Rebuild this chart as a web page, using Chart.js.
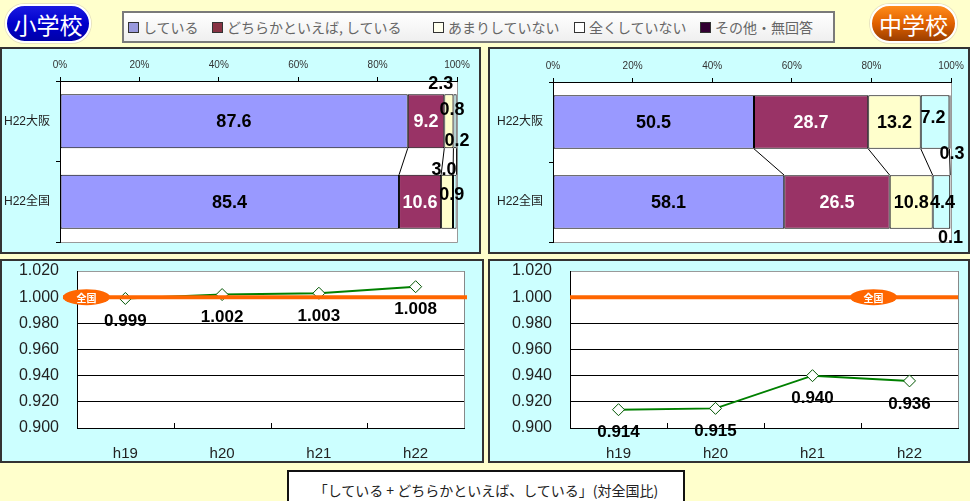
<!DOCTYPE html>
<html>
<head>
<meta charset="utf-8">
<script src="https://cdn.jsdelivr.net/npm/chart.js@4/dist/chart.umd.min.js"></script>
<style>
  body { margin:0; width:970px; height:501px; background:#ffffcc; position:relative; overflow:hidden;
         font-family:"Liberation Sans", Arial, "Noto Sans CJK JP", sans-serif; }
  .panel { position:absolute; box-sizing:border-box; border:2px solid #333; background:#ccffff; }
  .panel .wrap { position:relative; width:100%; height:100%; }
  .pill { position:absolute; top:4px; height:39px; box-sizing:border-box; border:2px solid #fff; border-radius:20px;
          box-shadow:0 0 0 1px #e8e4c0; color:#fff; font:23px "Noto Sans CJK JP", sans-serif;
          display:flex; align-items:center; justify-content:center; }
  #sho { left:5px; width:86px; background:linear-gradient(#1a1ae0, #0000cc 50%, #0000a8); }
  #chu { left:870px; width:87px; background:linear-gradient(#ff8c1a, #e06000 50%, #9a3e00); }
  #legend { position:absolute; left:122px; top:11px; width:713px; height:32px; box-sizing:border-box;
            border:2px solid #7a7a7a; background:linear-gradient(#ffffff, #efefef); }
  .li { position:absolute; top:6px; font:14px "Noto Sans CJK JP", sans-serif; color:#666; white-space:nowrap;
        display:flex; align-items:center; line-height:16px; }
  .sw { width:9px; height:9px; border:1px solid #333; margin-right:4px; }
  #caption { position:absolute; left:287px; top:470px; width:398px; height:40px; box-sizing:border-box;
             border:2px solid #111; background:#fff; font:14px "Noto Sans CJK JP", sans-serif; color:#222;
             text-align:center; padding-top:8px; }
</style>
</head>
<body>
<div class="pill" id="sho">小学校</div>
<div class="pill" id="chu">中学校</div>
<div id="legend"></div>

<div class="panel" style="left:0;top:47px;width:481px;height:207px"><div class="wrap"><canvas id="bar-sho"></canvas></div></div>
<div class="panel" style="left:488px;top:47px;width:482px;height:207px"><div class="wrap"><canvas id="bar-chu"></canvas></div></div>
<div class="panel" style="left:0;top:259px;width:484px;height:204px"><div class="wrap"><canvas id="line-sho"></canvas></div></div>
<div class="panel" style="left:488px;top:259px;width:482px;height:204px"><div class="wrap"><canvas id="line-chu"></canvas></div></div>

<div id="caption">「している + どちらかといえば、している」(対全国比)</div>

<script>
// 帯グラフ: 回答の割合 (%)
const BAR_CATS = ['H22大阪', 'H22全国'];
const SERIES = ['している', 'どちらかといえば、している', 'あまりしていない', '全くしていない', 'その他・無回答'];
const SERIES_COLORS = ['#9999ff', '#993366', '#ffffcc', '#ccffff', '#660066'];
const LEGEND_SWATCH = ['#9999dd', '#883344', '#ffffee', '#ffffff', '#330033'];

const SHO_SHITEIRU = [87.6, 85.4];
const SHO_DOCHIRA  = [9.2, 10.6];
const SHO_AMARI    = [2.3, 3.0];
const SHO_MATTAKU  = [0.8, 0.9];
const SHO_SONOTA   = [0.2, null];

const CHU_SHITEIRU = [50.5, 58.1];
const CHU_DOCHIRA  = [28.7, 26.5];
const CHU_AMARI    = [13.2, 10.8];
const CHU_MATTAKU  = [7.2, 4.4];
const CHU_SONOTA   = [0.3, 0.1];

// 折れ線: 対全国比
const YEARS = ['h19', 'h20', 'h21', 'h22'];
const SHO_RATIO = [0.999, 1.002, 1.003, 1.008];
const CHU_RATIO = [0.914, 0.915, 0.940, 0.936];
const NATIONAL = 1.0;

// 細い区分のラベルをずらす量 [dx, dy] (系列 x カテゴリ)
const Z = [[0, 0], [0, 0]];
const SHO_SHIFT = [Z, Z, [[-8, -38], [-3, -33]], [[-3, -12], [-3, -8]], [[0, 19], [0, 0]]];
const CHU_SHIFT = [Z, Z, Z, [[-2, -5], [1, 0]], [[2, 31], [0, 35]]];

const NUM_FONT = '"Liberation Sans", Arial, sans-serif';
Chart.defaults.font.family = '"Liberation Sans", Arial, "Noto Sans CJK JP", sans-serif';
Chart.defaults.animation = false;

// legend (html)
const LEGEND_X = [4, 88, 309, 450, 576];
document.getElementById('legend').innerHTML = SERIES.map((s, i) =>
  `<div class="li" style="left:${LEGEND_X[i]}px"><span class="sw" style="background:${LEGEND_SWATCH[i]}"></span>${s.replace('、', ', ')}</div>`
).join('');

// 目盛ラベル分の余白を詰める
const noPad = (s) => { s.paddingTop = 0; s.paddingBottom = 0; s.paddingLeft = 0; s.paddingRight = 0; };

const barDeco = {
  id: 'barDeco',
  beforeDraw(chart) {
    const a = chart.chartArea, c = chart.ctx;
    c.save(); c.fillStyle = '#fff'; c.fillRect(a.left, a.top, a.right - a.left, a.bottom - a.top);
    c.strokeStyle = '#999'; c.lineWidth = 1;
    c.beginPath(); c.moveTo(a.left, a.bottom + 0.5); c.lineTo(a.right + 0.5, a.bottom + 0.5); c.lineTo(a.right + 0.5, a.top); c.stroke();
    c.restore();
  },
  afterDatasetsDraw(chart, args, opts) {
    const c = chart.ctx, xs = chart.scales.x, ys = chart.scales.y;
    const sets = chart.data.datasets;
    const half = chart.getDatasetMeta(0).data[0].height / 2;
    // 系列線
    c.save(); c.strokeStyle = '#000'; c.lineWidth = 1;
    let cum0 = 0, cum1 = 0;
    for (let k = 0; k < sets.length - 1; k++) {
      cum0 += sets[k].data[0] || 0; cum1 += sets[k].data[1] || 0;
      c.beginPath();
      c.moveTo(xs.getPixelForValue(cum0), ys.getPixelForValue(0) + half);
      c.lineTo(xs.getPixelForValue(cum1), ys.getPixelForValue(1) - half);
      c.stroke();
    }
    // 数値ラベル
    c.font = 'bold 18px ' + NUM_FONT; c.textAlign = 'center'; c.textBaseline = 'middle';
    for (let j = 0; j < BAR_CATS.length; j++) {
      let cum = 0;
      sets.forEach((ds, i) => {
        const v = ds.data[j];
        if (v == null) return;
        const sh = opts.shift[i][j];
        const x = xs.getPixelForValue(cum + v / 2) + sh[0];
        const y = ys.getPixelForValue(j) + sh[1];
        c.fillStyle = i === 1 ? '#fff' : '#000';
        c.fillText(v.toFixed(1), x, y + 1);
        cum += v;
      });
    }
    c.restore();
  },
};

function barChart(id, series, shift, yWidth, xHeight, padRight) {
  return new Chart(document.getElementById(id), {
    type: 'bar',
    data: {
      labels: BAR_CATS,
      datasets: series.map((d, i) => ({
        label: SERIES[i], data: d, backgroundColor: SERIES_COLORS[i],
        borderColor: '#000', borderWidth: 1, borderSkipped: false,
        categoryPercentage: 0.67, barPercentage: 1,
      })),
    },
    options: {
      indexAxis: 'y', responsive: true, maintainAspectRatio: false,
      layout: { padding: { top: 0, right: padRight, bottom: 10, left: 0 } },
      plugins: { legend: { display: false }, tooltip: { enabled: false }, barDeco: { shift } },
      scales: {
        x: {
          position: 'top', stacked: true, min: 0, max: 100,
          ticks: { stepSize: 20, callback: (v) => v + '%', font: { size: 10 }, color: '#333', padding: 6 },
          grid: { drawOnChartArea: false, tickLength: 4, color: '#000' },
          border: { color: '#000' },
          afterFit: (s) => { s.height = xHeight; noPad(s); },
        },
        y: {
          stacked: true,
          ticks: { font: { size: 12 }, color: '#222', padding: 6 },
          grid: { drawOnChartArea: false, offset: true, tickLength: 4, color: '#000' },
          border: { color: '#000' },
          afterFit: (s) => { s.width = yWidth; noPad(s); },
        },
      },
    },
    plugins: [barDeco],
  });
}

barChart('bar-sho', [SHO_SHITEIRU, SHO_DOCHIRA, SHO_AMARI, SHO_MATTAKU, SHO_SONOTA], SHO_SHIFT, 58, 32, 22);
barChart('bar-chu', [CHU_SHITEIRU, CHU_DOCHIRA, CHU_AMARI, CHU_MATTAKU, CHU_SONOTA], CHU_SHIFT, 63, 33, 17);

const lineDeco = {
  id: 'lineDeco',
  beforeDraw(chart) {
    const a = chart.chartArea, c = chart.ctx;
    c.save(); c.fillStyle = '#fff'; c.fillRect(a.left, a.top, a.right - a.left, a.bottom - a.top); c.restore();
  },
  beforeDatasetsDraw(chart) {
    const a = chart.chartArea, c = chart.ctx, xs = chart.scales.x;
    c.save(); c.strokeStyle = '#888'; c.lineWidth = 1;
    c.beginPath(); c.moveTo(a.right + 0.5, a.top); c.lineTo(a.right + 0.5, a.bottom); c.stroke();
    // 目盛り (内向き)
    c.strokeStyle = '#000';
    for (let i = 0; i < YEARS.length - 1; i++) {
      const x = Math.round((xs.getPixelForValue(i) + xs.getPixelForValue(i + 1)) / 2) + 0.5;
      c.beginPath(); c.moveTo(x, a.bottom); c.lineTo(x, a.bottom - 5); c.stroke();
    }
    c.restore();
  },
  afterDatasetsDraw(chart, args, opts) {
    const a = chart.chartArea, c = chart.ctx;
    const y = chart.scales.y.getPixelForValue(NATIONAL);
    c.save();
    c.strokeStyle = '#ff6600'; c.lineWidth = 4;
    c.beginPath(); c.moveTo(a.left + opts.lineFrom, y); c.lineTo(a.right + opts.lineTo, y); c.stroke();
    c.fillStyle = '#ff6600';
    c.beginPath(); c.ellipse(a.left + opts.ovalX, y, 23.5, 8, 0, 0, Math.PI * 2); c.fill();
    c.fillStyle = '#fff'; c.font = 'bold 10px "Noto Sans CJK JP", sans-serif';
    c.textAlign = 'center'; c.textBaseline = 'middle';
    c.fillText('全国', a.left + opts.ovalX, y + 1);
    // 値ラベル
    c.fillStyle = '#000'; c.font = 'bold 17px ' + NUM_FONT;
    chart.getDatasetMeta(0).data.forEach((pt, i) => {
      c.fillText(chart.data.datasets[0].data[i].toFixed(3), pt.x, pt.y + 23);
    });
    c.restore();
  },
};

function lineChart(id, values, deco, padRight) {
  return new Chart(document.getElementById(id), {
    type: 'line',
    data: {
      labels: YEARS,
      datasets: [{
        data: values, borderColor: '#008000', borderWidth: 2,
        pointStyle: 'rectRot', pointRadius: 6, pointBackgroundColor: '#fff',
        pointBorderColor: '#005500', pointBorderWidth: 1,
      }],
    },
    options: {
      responsive: true, maintainAspectRatio: false,
      layout: { padding: { top: 10, right: padRight, bottom: 0, left: 0 } },
      plugins: { legend: { display: false }, tooltip: { enabled: false }, lineDeco: deco },
      scales: {
        x: {
          offset: true,
          ticks: { font: { size: 15 }, color: '#222', padding: 17 },
          grid: { display: false, drawTicks: false },
          border: { color: '#000' },
          afterFit: (s) => { s.height = 33; noPad(s); },
        },
        y: {
          min: 0.9, max: 1.02,
          ticks: { stepSize: 0.02, callback: (v) => v.toFixed(3), font: { size: 16 }, color: '#222', padding: 18 },
          grid: { drawTicks: false, color: (ctx) => (ctx.tick.value > 1.01 ? '#999' : '#000') },
          border: { color: '#000' },
          afterFit: (s) => { s.width = deco.axisWidth; noPad(s); },
        },
      },
    },
    plugins: [lineDeco],
  });
}

lineChart('line-sho', SHO_RATIO, { lineFrom: -14, lineTo: 3, ovalX: 9.5, axisWidth: 75 }, 18);
lineChart('line-chu', CHU_RATIO, { lineFrom: 0, lineTo: 0, ovalX: 303.5, axisWidth: 80 }, 10);
</script>
</body>
</html>
